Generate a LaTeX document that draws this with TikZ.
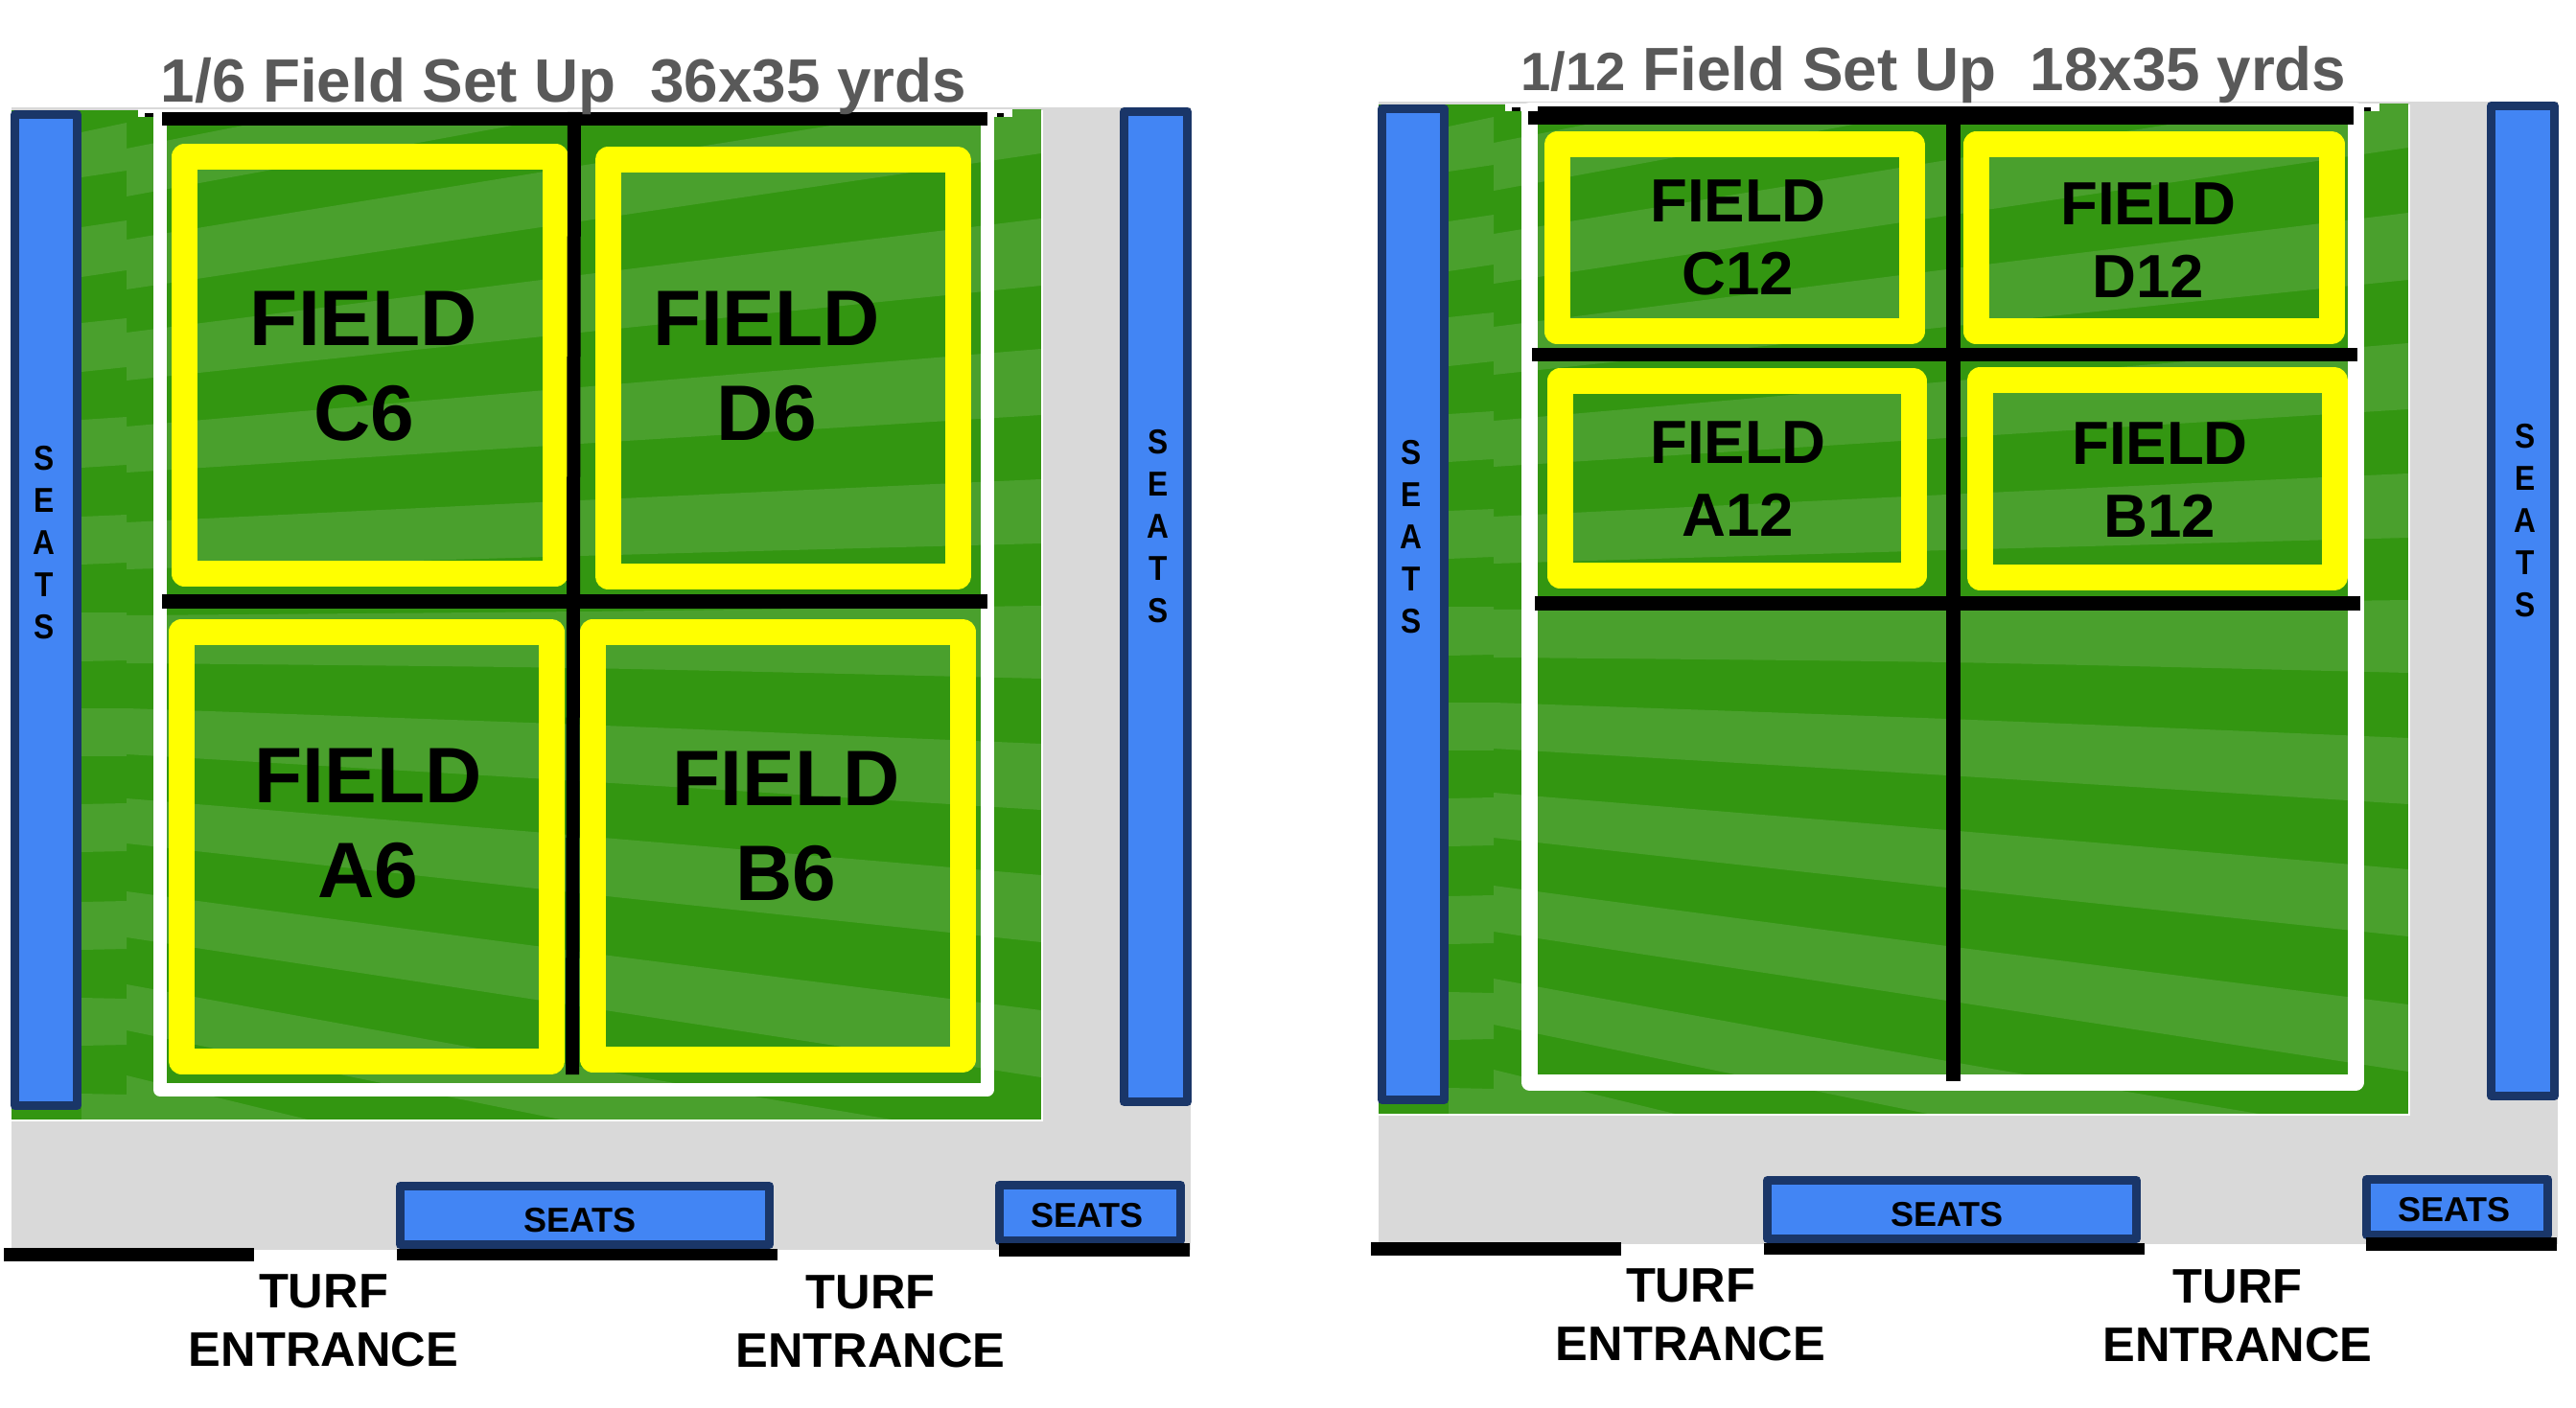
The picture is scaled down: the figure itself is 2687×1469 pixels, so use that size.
\documentclass[tikz,border=0pt]{standalone}
\usepackage{fontspec}
\setmainfont{Liberation Sans}
\definecolor{grassdark}{HTML}{339611}
\definecolor{grasslight}{HTML}{4AA02D}
\definecolor{seatblue}{HTML}{4285F4}
\definecolor{seatedge}{HTML}{1A3668}
\definecolor{floorgrey}{HTML}{D9D9D9}
\definecolor{titlegrey}{HTML}{595959}
\definecolor{linemark}{HTML}{FFFF00}
\def\px{0.02cm}
\newcommand{\pxfont}[2]{\fontsize{#1}{#2}\selectfont\bfseries}
\tikzset{
  yellowbox/.style={draw=linemark,line width=27*\px,line join=round},
  seatbox/.style={draw=seatedge,fill=seatblue,line width=9*\px,line join=round},
  blackbar/.style={fill=black},
  lab/.style={inner sep=0pt,outer sep=0pt,align=center,text=black},
  bigfield/.style={lab,font=\pxfont{46.7}{56.3}},
  smallfield/.style={lab,font=\pxfont{36.2}{43.3}},
  sideseat/.style={lab,font=\pxfont{20.5}{25},xscale=.88,transform shape},
  flatseat/.style={lab,anchor=base,font=\pxfont{20.5}{25}},
  turf/.style={lab,font=\pxfont{28.8}{34.7}},
  settitle/.style={inner sep=0pt,outer sep=0pt,anchor=base,text=titlegrey,font=\pxfont{36.3}{40}},
}
\newcommand{\lightband}[6]{%
  \fill[grasslight] plot[smooth] coordinates {(132,#1) (605,#2) (1086,#3)} --
    plot[smooth] coordinates {(1086,#6) (605,#5) (132,#4)} -- cycle;}
\newcommand{\stripband}[4]{%
  \fill[grasslight] (85,#1) -- (132,#3) -- (132,#4) -- (85,#2) -- cycle;}
\newcommand{\panelbase}{%
  \fill[floorgrey] (12,112) rectangle (1242,1304);
  \begin{scope}
    \clip (12,115) rectangle (1086,1168);
    \fill[grassdark] (12,115) rectangle (1086,1168);
    \lightband{155}{62}{-30}{205}{118}{30}
    \lightband{250}{173}{96}{302}{231}{160}
    \lightband{347}{287}{228}{397}{347}{298}
    \lightband{445}{404}{364}{493}{463}{433}
    \lightband{545}{522}{500}{594}{580}{567}
    \lightband{642}{638}{632}{692}{697}{708}
    \lightband{739}{756}{776}{787}{815}{845}
    \lightband{833}{872}{913}{880}{932}{983}
    \lightband{930}{993}{1054}{978}{1050}{1124}
    \lightband{1027}{1113}{1194}{1075}{1172}{1264}
    \lightband{1122}{1235}{1334}{1170}{1295}{1404}
    \stripband{138}{185}{128}{178}
    \stripband{237}{289}{230}{282}
    \stripband{337}{388}{332}{383}
    \stripband{438}{488}{435}{485}
    \stripband{539}{589}{537}{587}
    \stripband{639}{690}{639}{689}
    \stripband{739}{789}{739}{789}
    \stripband{839}{889}{838}{888}
    \stripband{941}{991}{940}{990}
    \stripband{1041}{1091}{1042}{1090}
    \stripband{1141}{1190}{1142}{1190}
  \end{scope}
  \draw[white,line width=2*\px] (12,1168.5) -- (1087,1168.5) -- (1087,115);
  \fill[white] (144,114) rectangle (1056,122);
  \fill[blackbar] (151,118) rectangle (160,122);
  \fill[blackbar] (1040,118) rectangle (1047,122);
  \draw[seatbox] (15.5,119.5) rectangle (80.5,1153.5);
  \draw[seatbox] (1172.5,116.5) rectangle (1238.5,1149.5);
  \draw[seatbox] (417.5,1237.5) rectangle (802.5,1298.5);
  \draw[seatbox] (1042.5,1236.5) rectangle (1231.5,1294.5);
  \fill[blackbar] (4,1302) rectangle (265,1316);
  \fill[blackbar] (414,1303) rectangle (811,1315);
  \fill[blackbar] (1042,1297) rectangle (1241,1311);
}
\begin{document}
\begin{tikzpicture}[x=\px,y=-\px]
\useasboundingbox (0,0) rectangle (2687,1469);
% ---------- left panel
\panelbase
\draw[white,line width=14*\px,line join=round] (167,122) rectangle (1029.5,1137);
\draw[yellowbox] (192.5,163.5) rectangle (579.5,598.5);
\draw[yellowbox] (634,167) rectangle (999,601);
\draw[yellowbox] (189.5,659) rectangle (575,1107);
\draw[yellowbox] (618.5,659) rectangle (1004,1105.5);
\fill[blackbar] (169,117) rectangle (1030,131.5);
\fill[blackbar] (169,620) rectangle (1030,634.5);
\fill[blackbar] (592,117) -- (606,117) -- (604,1121) -- (590,1121) -- cycle;
\node[settitle] (title6) at (588,107) {1/6 Field Set Up\ \ 36x35 yrds};
\node[bigfield] (fieldc6) at (379.5,382) {FIELD\\C6};
\node[bigfield] (fieldd6) at (799.5,382) {FIELD\\D6};
\node[bigfield] (fielda6) at (384,859.5) {FIELD\\A6};
\node[bigfield] (fieldb6) at (820,862) {FIELD\\B6};
\node[sideseat] (seatl6) at (46,566) {S\\E\\A\\T\\S};
\node[sideseat] (seatr6) at (1208,549) {S\\E\\A\\T\\S};
\node[flatseat] (seatm6) at (605,1285) {SEATS};
\node[flatseat] (seatc6) at (1134,1280) {SEATS};
\node[turf] (turfa6) at (337.5,1377.5) {TURF\\ENTRANCE};
\node[turf] (turfb6) at (908,1378.5) {TURF\\ENTRANCE};
% ---------- right panel
\begin{scope}[shift={(1426,-6)}]
\panelbase
\end{scope}
\draw[white,line width=17*\px,line join=round] (1595,116) rectangle (2457.5,1129);
\draw[yellowbox] (1624,151) rectangle (1994,346);
\draw[yellowbox] (2061.5,150.5) rectangle (2432,346);
\draw[yellowbox] (1627,397.5) rectangle (1996,600.5);
\draw[yellowbox] (2065,397) rectangle (2435,602);
\fill[blackbar] (1594,116) rectangle (1604,130);
\fill[blackbar] (1604,111.5) rectangle (2455,130);
\fill[blackbar] (1598,363) rectangle (2459,377);
\fill[blackbar] (1601,622) rectangle (2462,637);
\fill[blackbar] (2030,111.5) rectangle (2045,1128);
\node[settitle] (title12) at (2017,94.5) {{\fontsize{32}{40}\selectfont 1/12} Field Set Up\ \ 18x35 yrds};
\node[smallfield] (fieldc12) at (1813,248) {FIELD\\C12};
\node[smallfield] (fieldd12) at (2241,251) {FIELD\\D12};
\node[smallfield] (fielda12) at (1813,500) {FIELD\\A12};
\node[smallfield] (fieldb12) at (2253,501) {FIELD\\B12};
\node[sideseat] (seatl12) at (1472,560) {S\\E\\A\\T\\S};
\node[sideseat] (seatr12) at (2634,543) {S\\E\\A\\T\\S};
\node[flatseat] (seatm12) at (2031,1279) {SEATS};
\node[flatseat] (seatc12) at (2560,1274) {SEATS};
\node[turf] (turfa12) at (1763.5,1371.5) {TURF\\ENTRANCE};
\node[turf] (turfb12) at (2334,1372.5) {TURF\\ENTRANCE};
\end{tikzpicture}
\end{document}
